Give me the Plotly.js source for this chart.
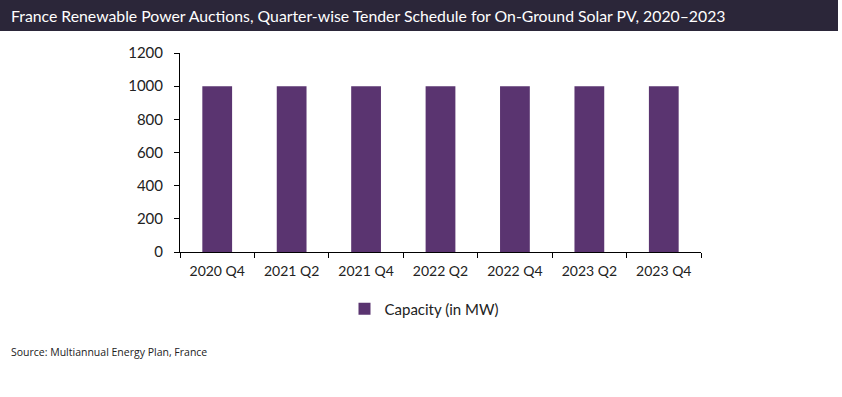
<!DOCTYPE html>
<html>
<head>
<meta charset="utf-8">
<script src="https://cdn.plot.ly/plotly-3.0.1.min.js"></script>
<style>html,body{margin:0;padding:0;background:#fff;}#chart{width:842px;height:397px;}</style>
</head>
<body>
<div id="chart"></div>
<script>
const categories = ["2020 Q4", "2021 Q2", "2021 Q4", "2022 Q2", "2022 Q4", "2023 Q2", "2023 Q4"];
const capacity = [1000, 1000, 1000, 1000, 1000, 1000, 1000];
const seriesName = "Capacity (in MW)";
const yTicks = [0, 200, 400, 600, 800, 1000, 1200];

const L = 180, R = 701, T = 53, B = 252;
const W = R - L, H = B - T;
const px = p => (p - L) / W;
const py = p => (B - p) / H;

const trace = {
  type: "bar",
  x: categories,
  y: capacity,
  name: seriesName,
  marker: {color: "#5a3470"},
  showlegend: true
};

const layout = {
  width: 842, height: 397,
  margin: {l: L, r: 842 - R, t: T, b: 397 - B},
  paper_bgcolor: "#fff", plot_bgcolor: "#fff",
  font: {family: "Lato, 'Open Sans', sans-serif", size: 14, color: "#222"},
  bargap: 0.6,
  xaxis: {
    type: "category",
    showline: true, linecolor: "#000", linewidth: 1,
    ticks: "outside", tickson: "boundaries", ticklen: 5, tickcolor: "#000",
    ticklabelstandoff: 6,
    showgrid: false, zeroline: false,
    tickfont: {size: 14, color: "#222"}
  },
  yaxis: {
    range: [0, 1200], tickvals: yTicks,
    showline: true, linecolor: "#000", linewidth: 1,
    ticks: "outside", ticklen: 5, tickcolor: "#000",
    ticklabelstandoff: 8,
    showgrid: false, zeroline: false,
    tickfont: {size: 15, color: "#222"}
  },
  legend: {
    orientation: "h", x: px(424), xanchor: "center", y: py(309), yanchor: "middle",
    font: {size: 15, color: "#222"}, itemwidth: 30
  },
  shapes: [{
    type: "rect", xref: "paper", yref: "paper",
    x0: px(0), x1: px(838), y0: py(31), y1: py(0),
    fillcolor: "#2b2639", line: {width: 0}, layer: "below"
  }],
  annotations: [
    {text: "France Renewable Power Auctions, Quarter-wise Tender Schedule for On-Ground Solar PV, 2020–2023",
     xref: "paper", yref: "paper", x: px(9), y: py(16), xanchor: "left", yanchor: "middle",
     showarrow: false, font: {family: "Lato, sans-serif", size: 15.8, color: "#fff"}},
    {text: "Source: Multiannual Energy Plan, France",
     xref: "paper", yref: "paper", x: px(9), y: py(352), xanchor: "left", yanchor: "middle",
     showarrow: false, font: {family: "'Open Sans', sans-serif", size: 10.5, color: "#222"}}
  ]
};

Plotly.newPlot("chart", [trace], layout, {displayModeBar: false, staticPlot: true});
</script>
</body>
</html>
